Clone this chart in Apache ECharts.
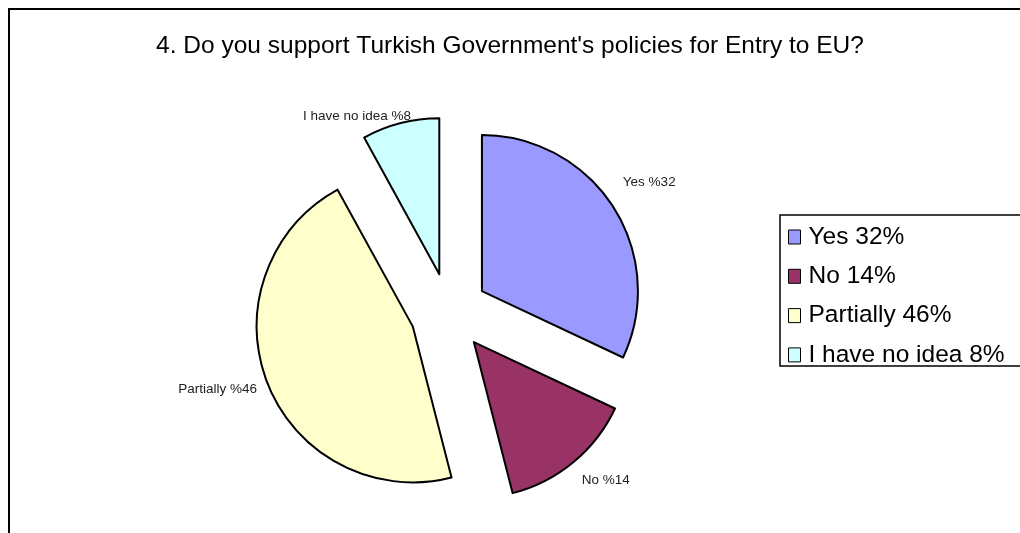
<!DOCTYPE html>
<html>
<head>
<meta charset="utf-8">
<script src="https://cdn.jsdelivr.net/npm/echarts@6/dist/echarts.min.js"></script>
<style>
  html, body { margin: 0; padding: 0; background: #fff; }
  #chart { width: 1020px; height: 533px; }
</style>
</head>
<body>
<div id="chart"></div>
<script>
const titleText = "4. Do you support Turkish Government's policies for Entry to EU?";
const categories = ['Yes', 'No', 'Partially', 'I have no idea'];
const values = [32, 14, 46, 8];
const colors = ['#9999FF', '#993366', '#FFFFCC', '#CCFFFF'];
// small nudges of each slice label (Excel-like placement)
const labelNudge = [[-11, -16], [-8, 4], [11, -1], [20, 11]];

const FONT = "'Liberation Sans', Arial, sans-serif";
const chart = echarts.init(document.getElementById('chart'), null, { renderer: 'canvas' });

const data = categories.map((c, i) => ({
  name: c + ' ' + values[i] + '%',
  value: values[i],
  selected: true,
  itemStyle: { color: colors[i] }
}));

chart.setOption({
  animation: false,
  backgroundColor: '#fff',
  title: {
    text: titleText,
    left: 'center',
    top: 29,
    textStyle: { fontFamily: FONT, fontSize: 24.5, fontWeight: 'normal', color: '#000' }
  },
  graphic: [
    { type: 'rect', shape: { x: 9, y: 9, width: 1030, height: 540 }, style: { fill: 'none', stroke: '#000', lineWidth: 2 }, silent: true, z: 100 },
    { type: 'rect', shape: { x: 780, y: 215, width: 260, height: 151 }, style: { fill: 'none', stroke: '#000', lineWidth: 1.5 }, silent: true, z: 100 }
  ],
  legend: {
    orient: 'vertical',
    left: 788,
    top: 223,
    padding: 0,
    itemWidth: 12,
    itemHeight: 14,
    itemGap: 11.3,
    icon: 'rect',
    selectedMode: false,
    itemStyle: { borderColor: '#000', borderWidth: 1 },
    textStyle: { fontFamily: FONT, fontSize: 24.5, color: '#000', lineHeight: 28, padding: [0, 0, 0, 3] }
  },
  series: [{
    type: 'pie',
    center: [449, 312],
    radius: 156,
    startAngle: 90,
    clockwise: true,
    selectedMode: 'multiple',
    selectedOffset: 39,
    avoidLabelOverlap: false,
    emphasis: { disabled: true },
    itemStyle: { borderColor: '#000', borderWidth: 2 },
    label: {
      show: true,
      position: 'outside',
      fontFamily: FONT,
      fontSize: 13.5,
      color: '#222',
      formatter: p => categories[p.dataIndex] + ' %' + values[p.dataIndex]
    },
    labelLine: { show: false, length: 18, length2: 0 },
    labelLayout: p => ({ dx: labelNudge[p.dataIndex][0], dy: labelNudge[p.dataIndex][1] }),
    data: data
  }]
});
</script>
</body>
</html>
